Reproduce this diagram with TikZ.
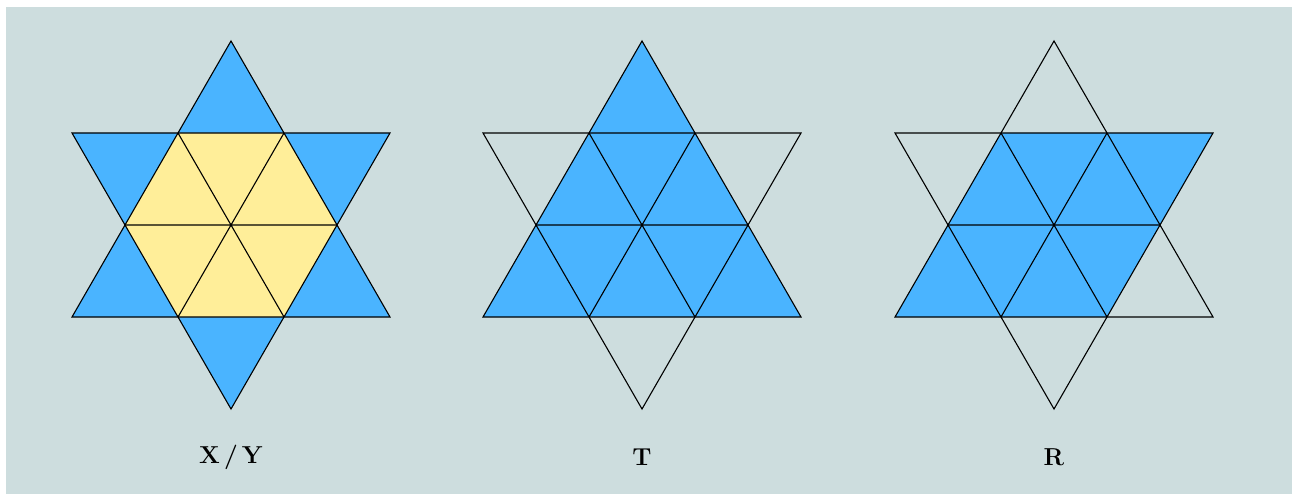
\documentclass[tikz,border=0pt]{standalone}
\definecolor{bgc}{HTML}{CDDDDE}
\definecolor{sky}{HTML}{4AB4FF}
\definecolor{sand}{HTML}{FFEE99}
\newcommand\starlines{%
  \draw[edge] (0,-184) -- (-159,92) -- (159,92) -- cycle;
  \draw[edge] (0,184) -- (-159,-92) -- (159,-92) -- cycle;
  \draw[edge] (-106,0) -- (106,0) (-53,-92) -- (53,92) (53,-92) -- (-53,92);
}
\begin{document}
\begin{tikzpicture}[x=1pt,y=-1pt,
  edge/.style={draw=black,line width=1.1pt,line join=miter},
  lbl/.style={font=\bfseries\fontsize{24.5}{28}\selectfont,inner sep=0pt}]
\useasboundingbox (0,0) rectangle (1292,494);
\fill[white] (0,0) rectangle (1292,494);
\fill[bgc] (6,7) rectangle (1292,494);
% Star X/Y
\begin{scope}[shift={(231,225)}]
  \fill[sky] (0,-184) -- (-159,92) -- (159,92) -- cycle;
  \fill[sky] (0,184) -- (-159,-92) -- (159,-92) -- cycle;
  \fill[sand] (-106,0) -- (-53,-92) -- (53,-92) -- (106,0) -- (53,92) -- (-53,92) -- cycle;
  \starlines
\end{scope}
% Star T
\begin{scope}[shift={(642,225)}]
  \fill[sky] (0,-184) -- (-159,92) -- (159,92) -- cycle;
  \starlines
\end{scope}
% Star R
\begin{scope}[shift={(1054,225)}]
  \fill[sky] (-159,92) -- (-53,-92) -- (159,-92) -- (53,92) -- cycle;
  \starlines
\end{scope}
\node[lbl] (lxy) at (231,457) {X\,/\,Y};
\node[lbl] (lt) at (642,457) {T};
\node[lbl] (lr) at (1054,457) {R};
\end{tikzpicture}
\end{document}
